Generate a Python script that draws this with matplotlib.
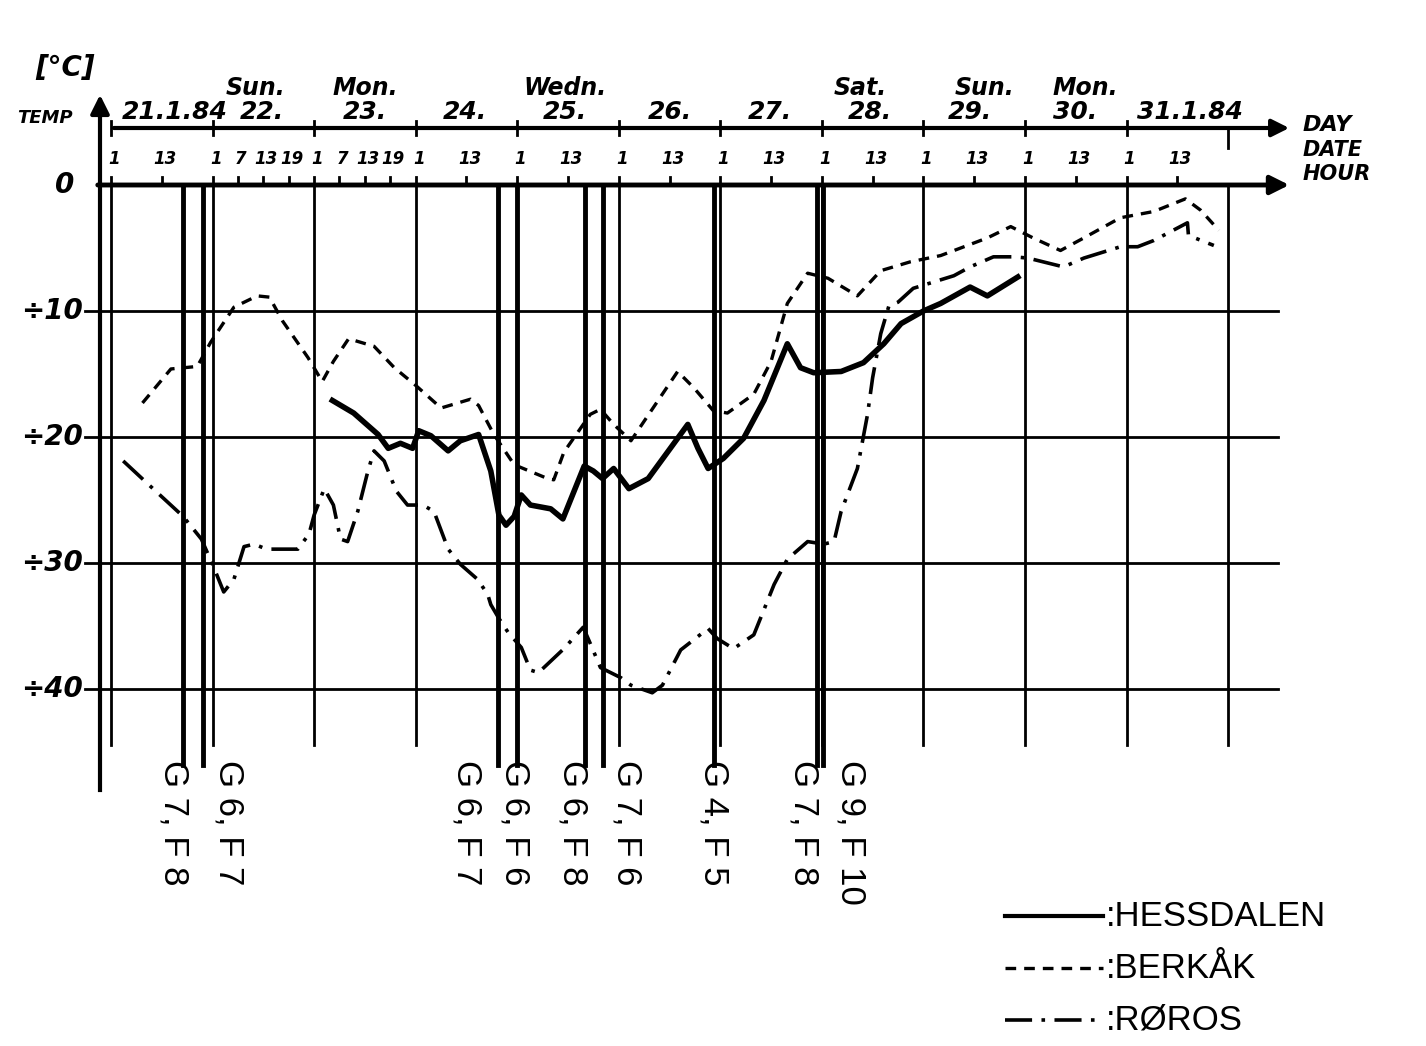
import matplotlib
matplotlib.use("Agg")
import matplotlib.pyplot as plt

# time axis: day number, hour 1 of each day sits on the integer
hess_t = [23.18, 23.39, 23.63, 23.73, 23.85, 23.97, 24.03, 24.15, 24.32, 24.44, 24.62,
          24.74, 24.82, 24.89, 24.97, 25.04, 25.13, 25.33, 25.45, 25.66, 25.75, 25.84,
          25.95, 26.10, 26.29, 26.68, 26.78, 26.88, 27.03, 27.23, 27.43, 27.66, 27.79,
          27.92, 28.19, 28.41, 28.61, 28.78, 29.00, 29.17, 29.46, 29.63, 29.93]
hess_temp = [-17.1, -18.1, -19.8, -20.9, -20.5, -20.9, -19.5, -19.9, -21.1, -20.3, -19.8,
             -22.7, -26.2, -27.0, -26.3, -24.6, -25.4, -25.7, -26.5, -22.3, -22.7, -23.3,
             -22.5, -24.1, -23.3, -19.0, -20.9, -22.5, -21.7, -20.1, -17.1, -12.6, -14.5,
             -14.9, -14.8, -14.1, -12.6, -11.0, -10.0, -9.4, -8.1, -8.8, -7.3]

berk_t = [21.31, 21.59, 21.85, 21.98, 22.21, 22.44, 22.56, 22.69, 22.94, 23.08, 23.19,
          23.34, 23.59, 23.79, 24.00, 24.25, 24.54, 24.62, 24.77, 24.97, 25.30, 25.36,
          25.46, 25.72, 25.82, 25.95, 26.12, 26.58, 26.74, 26.93, 27.07, 27.33, 27.50,
          27.66, 27.86, 28.06, 28.35, 28.58, 28.87, 29.17, 29.63, 29.86, 30.08, 30.35,
          30.58, 30.94, 31.27, 31.58, 31.73, 31.91]
berk_temp = [-17.3, -14.6, -14.4, -12.5, -9.7, -8.8, -8.9, -10.8, -13.7, -15.6, -14.0,
             -12.2, -12.8, -14.5, -15.9, -17.7, -17.0, -17.5, -19.8, -22.2, -23.3, -23.4,
             -21.2, -18.2, -17.8, -19.0, -20.3, -14.8, -16.1, -17.9, -18.1, -16.6, -14.0,
             -9.4, -7.0, -7.4, -8.8, -6.8, -6.1, -5.6, -4.2, -3.3, -4.2, -5.2,
             -4.2, -2.6, -2.1, -1.1, -2.0, -3.6]

roros_t = [21.12, 21.36, 21.71, 21.89, 22.01, 22.11, 22.21, 22.31, 22.41, 22.53, 22.84,
           22.95, 23.00, 23.10, 23.19, 23.26, 23.33, 23.43, 23.53, 23.59, 23.69, 23.81,
           23.92, 24.07, 24.18, 24.32, 24.44, 24.61, 24.71, 24.74, 24.82, 24.91, 25.04,
           25.13, 25.21, 25.46, 25.65, 25.72, 25.82, 26.02, 26.12, 26.33, 26.43, 26.61,
           26.88, 26.97, 27.13, 27.33, 27.53, 27.66, 27.86, 28.02, 28.12, 28.19, 28.35,
           28.45, 28.50, 28.58, 28.66, 28.75, 28.90, 29.30, 29.46, 29.69, 29.89, 30.03,
           30.38, 30.58, 30.94, 31.11, 31.27, 31.60, 31.61, 31.86]
roros_temp = [-21.9, -23.7, -26.3, -28.1, -30.3, -32.3, -31.3, -28.7, -28.5, -28.9, -28.9,
              -27.7, -26.2, -24.1, -25.4, -28.1, -28.3, -25.9, -22.7, -21.1, -21.9, -24.3,
              -25.4, -25.4, -25.9, -28.9, -30.1, -31.3, -32.5, -33.3, -34.4, -35.5, -36.7,
              -38.5, -38.7, -36.8, -35.1, -36.4, -38.3, -39.1, -39.7, -40.3, -39.7, -36.9,
              -35.2, -36.0, -36.8, -35.7, -31.7, -29.7, -28.3, -28.5, -28.3, -25.9, -22.5,
              -18.2, -15.3, -11.8, -9.6, -9.3, -8.2, -7.2, -6.5, -5.7, -5.7, -5.8,
              -6.5, -5.8, -4.9, -4.9, -4.4, -3.0, -4.0, -4.8]

# observations (G, F) with time of each observation line
event_t = [21.71, 21.91, 24.81, 25.00, 25.67, 25.84, 26.94, 27.95, 28.01]
event_label_t = [21.62, 22.16, 24.51, 24.98, 25.55, 26.08, 26.94, 27.82, 28.29]
event_labels = ["G 7, F 8", "G 6, F 7", "G 6, F 7", "G 6, F 6", "G 6, F 8",
                "G 7, F 6", "G 4, F 5", "G 7, F 8", "G 9, F 10"]

day_label_t = [21.63, 22.49, 23.5, 24.49, 25.47, 26.5, 27.49, 28.47, 29.46, 30.49, 31.62]
day_labels = ["21.1.84", "22.", "23.", "24.", "25.", "26.", "27.", "28.", "29.", "30.", "31.1.84"]
weekday_t = [22.42, 23.5, 25.47, 28.38, 29.6, 30.59]
weekdays = ["Sun.", "Mon.", "Wedn.", "Sat.", "Sun.", "Mon."]

hour_t = [21, 21.5, 22, 22.25, 22.5, 22.75, 23, 23.25, 23.5, 23.75,
          24, 24.5, 25, 25.5, 26, 26.5, 27, 27.5, 28, 28.5, 29, 29.5, 30, 30.5, 31, 31.5]
hour_labels = ["1", "13", "1", "7", "13", "19", "1", "7", "13", "19",
               "1", "13", "1", "13", "1", "13", "1", "13", "1", "13", "1", "13", "1", "13", "1", "13"]

temp_ticks = [-10, -20, -30, -40]
temp_labels = ["÷10", "÷20", "÷30", "÷40"]
grid_days = list(range(21, 33))

# pixel -> data helpers (layout only)
PX0, PXD = 111, 101.55
PY0, PYD = 185, 12.6
def X(p):
    return 21 + (p - PX0) / PXD
def Y(p):
    return -(p - PY0) / PYD

hand = dict(family="DejaVu Sans", fontweight="bold", fontstyle="italic", color="black")

fig = plt.figure(figsize=(14.26, 10.46), dpi=100)
ax = fig.add_axes([0, 0, 1, 1])
ax.set_xlim(X(0), X(1426))
ax.set_ylim(Y(1046), Y(0))
ax.axis("off")

# horizontal grid
for t in temp_ticks:
    ax.plot([X(85), X(1278)], [t, t], color="black", lw=2)
for t, lab in zip(temp_ticks, temp_labels):
    ax.text(X(52), t, lab, ha="center", va="center", fontsize=20, **hand)
ax.text(X(65), 0, "0", ha="center", va="center", fontsize=20, **hand)

# vertical day grid
for d in grid_days:
    ax.plot([d, d], [0, Y(745)], color="black", lw=2)

# observation lines and labels
for t in event_t:
    ax.plot([t, t], [0, Y(765)], color="black", lw=3.5)
for t, lab in zip(event_label_t, event_labels):
    ax.text(t, Y(760), lab, rotation=270, ha="center", va="top",
            fontsize=25, family="Liberation Sans")

# axes
ax.plot([X(100), X(100)], [Y(790), Y(110)], color="black", lw=3)
ax.annotate("", xy=(X(100), Y(92)), xytext=(X(100), Y(120)),
            arrowprops=dict(arrowstyle="-|>", color="black", lw=3, mutation_scale=28))
ax.annotate("", xy=(X(1292), 0), xytext=(X(95), 0),
            arrowprops=dict(arrowstyle="-|>", color="black", lw=3.5, mutation_scale=28))
ax.annotate("", xy=(X(1292), Y(128)), xytext=(X(111), Y(128)),
            arrowprops=dict(arrowstyle="-|>", color="black", lw=3, mutation_scale=26))
for d in grid_days[:-1]:
    ax.plot([d, d], [Y(121), Y(135)], color="black", lw=2)
ax.plot([32, 32], [Y(128), Y(148)], color="black", lw=2)
for t in hour_t:
    ax.plot([t, t], [Y(177), 0], color="black", lw=2)

for t, lab in zip(hour_t, hour_labels):
    ax.text(t + 0.03, Y(159), lab, ha="center", va="center", fontsize=12, **hand)
for t, lab in zip(day_label_t, day_labels):
    ax.text(t, Y(112), lab, ha="center", va="center", fontsize=18, **hand)
for t, lab in zip(weekday_t, weekdays):
    ax.text(t, Y(88), lab, ha="center", va="center", fontsize=17, **hand)

ax.text(X(65), Y(68), "[°C]", ha="center", va="center", fontsize=20, **hand)
ax.text(X(45), Y(118), "TEMP", ha="center", va="center", fontsize=13, **hand)
ax.text(X(1303), Y(125), "DAY", ha="left", va="center", fontsize=16, **hand)
ax.text(X(1303), Y(150), "DATE", ha="left", va="center", fontsize=15, **hand)
ax.text(X(1303), Y(174), "HOUR", ha="left", va="center", fontsize=15, **hand)

# temperature curves
ax.plot(hess_t, hess_temp, color="black", lw=4, solid_joinstyle="round")
ax.plot(berk_t, berk_temp, color="black", lw=2.4, dashes=(3.2, 2.4))
ax.plot(roros_t, roros_temp, color="black", lw=2.6, dashes=(7.5, 2.6, 1.0, 2.6))

# legend drawn by hand
legend_names = [":HESSDALEN", ":BERKÅK", ":RØROS"]
legend_styles = [dict(lw=3), dict(lw=2.4, dashes=(3.2, 2.4)), dict(lw=2.6, dashes=(7.5, 2.6, 1.0, 2.6))]
for i, (name, st) in enumerate(zip(legend_names, legend_styles)):
    yy = Y(916 + 52 * i)
    ax.plot([X(1005), X(1103)], [yy, yy], color="black", **st)
    ax.text(X(1106), yy, name, ha="left", va="center", fontsize=25, family="Liberation Sans")

fig.savefig("out.png", dpi=100)
